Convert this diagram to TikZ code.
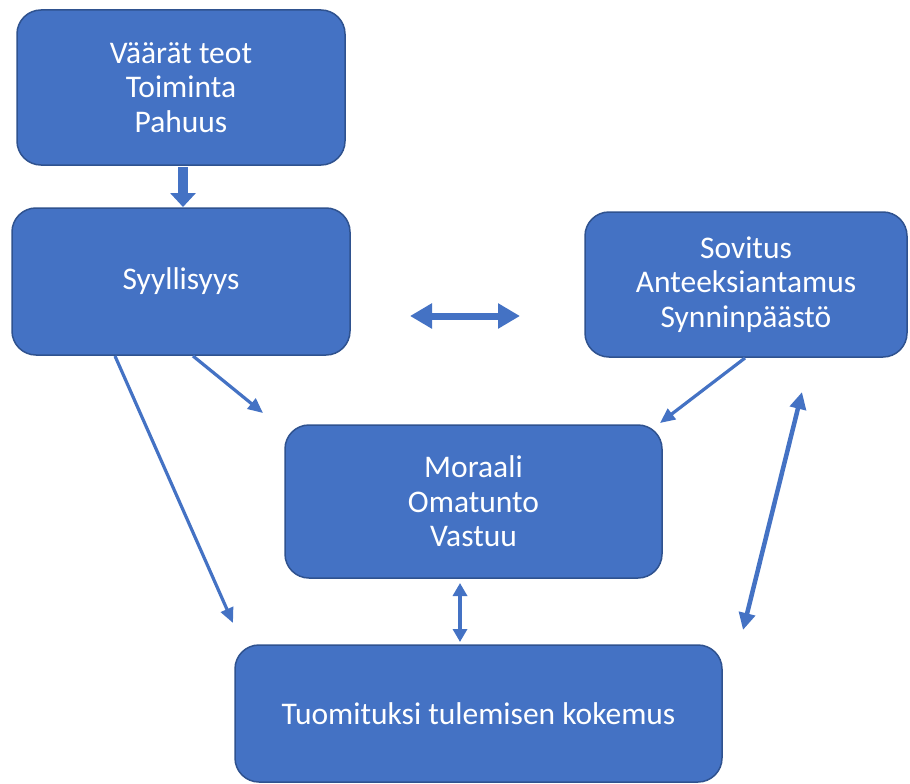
\documentclass[tikz,border=0pt]{standalone}
\usepackage{fontspec}
\setmainfont{Carlito}
\usetikzlibrary{arrows.meta}
\definecolor{boxblue}{HTML}{4472C4}
\definecolor{boxedge}{HTML}{2F528F}
\begin{document}
\begin{tikzpicture}[x=1pt,y=-1pt,
  box/.style={draw=boxedge,line width=1.5pt,fill=boxblue,rounded corners=24pt,
    text=white,align=center,inner sep=0pt,
    font=\fontsize{31.5}{34.5}\selectfont},
  thin arrow/.style={draw=boxblue,line width=3.2pt,-{Triangle[width=13pt,length=15pt]}},
  thin double/.style={draw=boxblue,line width=4.5pt,{Triangle[width=16pt,length=17pt]}-{Triangle[width=16pt,length=17pt]}},
]
\useasboundingbox[fill=white] (0,0) rectangle (910,784);
\node[box,minimum width=328pt,minimum height=155pt] (top) at (181,87.5) {Väärät teot\\Toiminta\\Pahuus};
\node[box,minimum width=338pt,minimum height=147pt] (syy) at (181,281.5) {Syyllisyys};
\node[box,minimum width=322pt,minimum height=145pt] (sov) at (746,284.5) {Sovitus\\Anteeksiantamus\\Synninpäästö};
\node[box,minimum width=377pt,minimum height=153pt] (mor) at (473.5,501.5) {Moraali\\Omatunto\\Vastuu};
\node[box,minimum width=487pt,minimum height=137pt] (tuo) at (478.5,713.5) {Tuomituksi tulemisen kokemus};

\coordinate (a1s) at (183,167);
\coordinate (a1e) at (183,207);
\draw[boxblue,line width=10pt,-{Triangle[width=25pt,length=14pt]}] (a1s) -- (a1e);

\coordinate (h1) at (410,316);
\coordinate (h2) at (520,316);
\draw[boxblue,line width=7pt,{Triangle[width=24pt,length=22pt]}-{Triangle[width=24pt,length=22pt]}] (h1) -- (h2);

\coordinate (s1) at (193,356);
\coordinate (m1) at (263,413);
\draw[thin arrow] (s1) -- (m1);
\coordinate (s2) at (115,356);
\coordinate (t1) at (233,623);
\draw[thin arrow] (s2) -- (t1);
\coordinate (v1) at (745,358);
\coordinate (m2) at (660,423);
\draw[thin arrow] (v1) -- (m2);

\coordinate (m3) at (460,583);
\coordinate (t2) at (460,642);
\draw[draw=boxblue,line width=3.5pt,{Triangle[width=14pt,length=13pt]}-{Triangle[width=14pt,length=13pt]}] (m3) -- (t2);

\coordinate (t3) at (743,630);
\coordinate (v2) at (802,392);
\draw[thin double] (t3) -- (v2);
\end{tikzpicture}
\end{document}
